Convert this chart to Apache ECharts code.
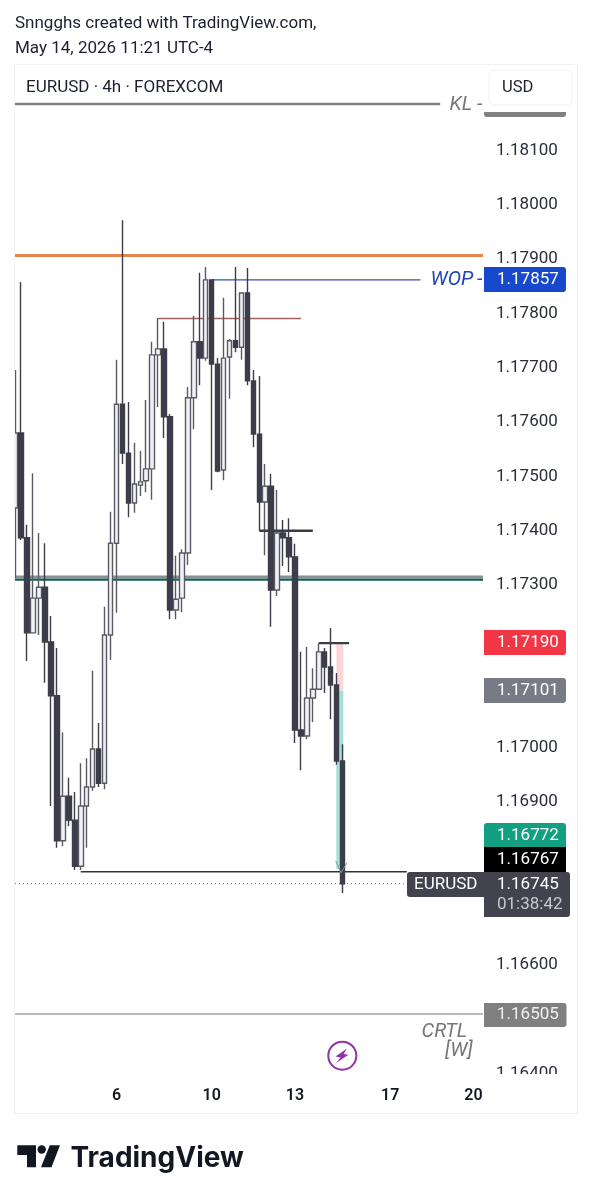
<!DOCTYPE html>
<html><head><meta charset="utf-8">
<style>html,body{margin:0;padding:0;background:#fff}#c{width:592px;height:1200px}</style>
<script src="https://cdn.jsdelivr.net/npm/echarts@6/dist/echarts.min.js"></script>
</head><body><div id="c"></div>
<script>
const opens=[1.17437,1.17575,1.17382,1.17207,1.17271,1.17291,1.17190,1.17091,1.16824,1.16906,1.16862,1.16777,1.16888,1.16923,1.16993,1.16930,1.17203,1.17372,1.17628,1.17538,1.17446,1.17479,1.17487,1.17509,1.17719,1.17730,1.17605,1.17249,1.17271,1.17354,1.17640,1.17743,1.17713,1.17857,1.17702,1.17507,1.17715,1.17745,1.17733,1.17833,1.17671,1.17573,1.17448,1.17477,1.17286,1.17391,1.17382,1.17347,1.17028,1.17017,1.17087,1.17103,1.17172,1.17144,1.17111,1.16971];
const closes=[1.17575,1.17382,1.17207,1.17271,1.17291,1.17190,1.17091,1.16824,1.16906,1.16862,1.16777,1.16888,1.16923,1.16993,1.16930,1.17203,1.17372,1.17628,1.17538,1.17446,1.17481,1.17485,1.17509,1.17719,1.17730,1.17605,1.17249,1.17269,1.17354,1.17640,1.17743,1.17713,1.17857,1.17702,1.17505,1.17713,1.17745,1.17733,1.17833,1.17671,1.17573,1.17448,1.17477,1.17286,1.17391,1.17382,1.17347,1.17028,1.17017,1.17087,1.17103,1.17172,1.17144,1.17111,1.16971,1.16745];
const highs=[1.17691,1.17853,1.17406,1.17501,1.17391,1.17372,1.17238,1.17179,1.17024,1.16940,1.16914,1.16967,1.16976,1.17137,1.17041,1.17255,1.17430,1.17710,1.17967,1.17632,1.17557,1.17542,1.17636,1.17743,1.17787,1.17780,1.17610,1.17349,1.17361,1.17660,1.17791,1.17870,1.17881,1.17857,1.17713,1.17824,1.17748,1.17881,1.17833,1.17879,1.17691,1.17680,1.17518,1.17500,1.17470,1.17415,1.17418,1.17371,1.17172,1.17181,1.17142,1.17188,1.17179,1.17216,1.17133,1.17002];
const lows=[1.17308,1.17378,1.17155,1.17207,1.17203,1.17115,1.16888,1.16811,1.16814,1.16851,1.16770,1.16770,1.16811,1.16916,1.16923,1.16919,1.17157,1.17244,1.17518,1.17420,1.17428,1.17459,1.17466,1.17452,1.17623,1.17566,1.17232,1.17232,1.17245,1.17332,1.17582,1.17663,1.17708,1.17470,1.17503,1.17488,1.17638,1.17724,1.17710,1.17663,1.17549,1.17395,1.17350,1.17218,1.17275,1.17330,1.17319,1.17004,1.16954,1.17011,1.17043,1.17102,1.17096,1.17048,1.16964,1.16728];
const priceTicks=[1.181,1.18,1.179,1.178,1.177,1.176,1.175,1.174,1.173,1.17,1.169,1.166,1.164];
const dayTickBars=[17,33,47,63,77];
const dayTickLabels=['6','10','13','17','20'];
const klPrice=1.18181, orangePrice=1.17902, wopPrice=1.17857, redPrice=1.17786;
const grayZonePrice=1.17310, tealZonePrice=1.17305, bosHighPrice=1.17395, stopPrice=1.17188;
const entryPrice=1.17101, targetPrice=1.16772, lowPrice=1.16767, lastPrice=1.16745, crtlPrice=1.16505;
const tagValues=['1.17857','1.17190','1.17101','1.16772','1.16767','1.16745','1.16505'];
const FONT='Roboto';
const xMin=-0.05,xMax=78.6;
function level(name,price,a,b,color,width,type,z){
  return {name,type:'line',data:[[a,price],[b,price]],symbol:'none',silent:true,z:z||1,
    lineStyle:{color,width,type:type||'solid',cap:'butt'},animation:false};
}
const candles=opens.map((o,i)=>[i,o,closes[i],lows[i],highs[i]]);
const series=[
 level('KL',klPrice,xMin,71.4,'#808080',2.6),
 level('Orange',orangePrice,xMin,xMax,'#e8854c',3),
 level('WOP',wopPrice,33,68.1,'#2f55a8',1.3),
 level('Red',redPrice,24,48,'#a4605f',1.5),
 level('Gray zone',grayZonePrice,xMin,xMax,'#8e8e96',2.6),
 level('Teal zone',tealZonePrice,xMin,xMax,'#0f5f50',2.4),
 level('BOS',bosHighPrice,41,50,'#3c3c46',2.4,'solid',5),
 level('Stop',stopPrice,51,56.1,'#3c3c46',2.4,'solid',5),
 level('Low',lowPrice,11,65.8,'#33333c',1.6,'solid',3),
 level('Last',lastPrice,xMin,65.8,'#6b6b74',1,[1,3]),
 level('CRTL',crtlPrice,xMin,xMax,'#777',1.2),
 {name:'Position',type:'line',data:[],silent:true,z:1,animation:false,
  markArea:{silent:true,z:1,data:[
   [{xAxis:53.95,yAxis:stopPrice,itemStyle:{color:'#fbd6d9'}},{xAxis:55.13,yAxis:entryPrice}],
   [{xAxis:53.95,yAxis:entryPrice,itemStyle:{color:'#a5dfd8'}},{xAxis:55.13,yAxis:targetPrice}]
  ]}},
 {name:'EURUSD',type:'candlestick',z:4,animation:false,silent:true,data:candles,
  encode:{x:0,y:[1,2,3,4]},barWidth:5,
  itemStyle:{color:'#f2f2f6',color0:'#3c3c4a',borderColor:'#5a5a66',borderColor0:'#3c3c4a',borderWidth:1.4}},
 {name:'Arrow',type:'line',symbol:'none',z:6,silent:true,animation:false,
  data:[[53.85,1.16787],[54.75,1.16765],[55.7,1.16783]],lineStyle:{color:'#6f9c9c',width:1}}
];
function txt(x,y,text,size,color,extra){
  return Object.assign({type:'text',z:50,x,y:y+2,silent:true,style:Object.assign({text,fill:color,font:(extra&&extra.font)||`${size}px ${FONT}`,textVerticalAlign:'middle',textAlign:(extra&&extra.align)||'left'})},{});
}
function tag(x,y,w,h,color,r){
  return {type:'rect',z:40,silent:true,shape:{x,y,width:w,height:h,r:r||[0,3,3,0]},style:{fill:color}};
}
const it=`italic 20px ${FONT}`;
const graphics=[
 {type:'rect',z:30,silent:true,shape:{x:0,y:60,width:14.5,height:1060},style:{fill:'#fff'}},
 {type:'rect',z:30,silent:true,shape:{x:484,y:1074,width:92,height:12},style:{fill:'#fff'}},
 {type:'rect',z:31,silent:true,shape:{x:14.5,y:64.5,width:563,height:1049},style:{fill:'none',stroke:'#f0f2f7',lineWidth:1}},
 txt(15,22,'Snngghs created with TradingView.com,',17,'#1c2030'),
 txt(15,47,'May 14, 2026 11:21 UTC-4',17,'#1c2030'),
 txt(26,86,'EURUSD · 4h · FOREXCOM',17,'#1c2030'),
 {type:'rect',z:35,silent:true,shape:{x:489,y:70,width:83,height:35,r:5},style:{fill:'#fff',stroke:'#f0f2f7',lineWidth:1}},
 txt(502,86,'USD',16.5,'#1c2030'),
 tag(484,112,82,5,'#808080',[0,0,3,3]),
 txt(449.5,103,'KL',0,'#75757d',{font:it}),
 txt(477,103,'-',0,'#75757d',{font:it}),
 txt(430.5,278,'WOP',0,'#1b47b8',{font:it}),
 txt(477,278,'-',0,'#1b47b8',{font:it}),
 txt(421.5,1030,'CRTL',0,'#75757d',{font:it}),
 txt(445,1049,'[W]',0,'#75757d',{font:it}),
 tag(484,267,82,25,'#1848cc'), txt(497,278,tagValues[0],17,'#fff'),
 tag(484,630,82,25,'#f23645'), txt(497,640.5,tagValues[1],17,'#fff'),
 tag(484,678,82,25,'#787b86'), txt(497,688.5,tagValues[2],17,'#fff'),
 tag(484,823,82,24,'#129f82',[3,3,0,0]), txt(497,833.5,tagValues[3],17,'#fff'),
 tag(484,847,82,25,'#000000',[0,0,0,0]), txt(497,857.5,tagValues[4],17,'#fff'),
 tag(407,872,77,25,'#43434f',[3,0,0,3]), txt(414,882.5,'EURUSD',17,'#fff'),
 tag(484,872,86,45,'#43434f'), txt(497,882.5,tagValues[5],17,'#fff'), txt(497,903,'01:38:42',17,'#c8c8ce'),
 tag(484,1003,82.5,24,'#808080'), txt(497,1013,tagValues[6],17,'#f0f0f0'),
 {type:'circle',z:40,silent:true,shape:{cx:342.3,cy:1055.7,r:14},style:{fill:'#fff',stroke:'#9231a8',lineWidth:2}},
 {type:'polygon',z:41,silent:true,shape:{points:[[347,1048.5],[335.5,1056.5],[340.5,1057.5],[336,1063],[348.5,1054.8],[343.5,1054]]},style:{fill:'#9231a8'}},
 {type:'polygon',z:41,silent:true,shape:{points:[[17.3,1145.3],[36,1145.3],[36,1167.3],[27,1167.3],[27,1155],[17.3,1155]]},style:{fill:'#131722'}},
 {type:'circle',z:41,silent:true,shape:{cx:41.7,cy:1149.5,r:4.2},style:{fill:'#131722'}},
 {type:'polygon',z:41,silent:true,shape:{points:[[49.8,1145.3],[60,1145.3],[51.5,1167.3],[41,1167.3]]},style:{fill:'#131722'}},
 txt(70.5,1157,'TradingView',0,'#131722',{font:`700 28px Inter`})
];
const chart=echarts.init(document.getElementById('c'),null,{renderer:'canvas',width:592,height:1200});
chart.setOption({
 animation:false,backgroundColor:'#fff',
 grid:{left:15,right:109,top:66,height:1005,containLabel:false},
 xAxis:{type:'value',min:xMin,max:xMax,z:60,
  axisLine:{show:false},axisTick:{show:false},splitLine:{show:false},
  axisLabel:{customValues:dayTickBars,margin:17,
   formatter:v=>dayTickLabels[dayTickBars.indexOf(v)]||'',
   color:'#131722',fontFamily:FONT,fontSize:16,fontWeight:600,showMinLabel:true,showMaxLabel:true}},
 yAxis:{type:'value',position:'right',min:1.164,max:1.18251,scale:true,
  axisLine:{show:false},axisTick:{show:false},splitLine:{show:false},
  axisLabel:{customValues:priceTicks,margin:13,formatter:v=>'{p|'+v.toFixed(5)+'}',
   rich:{p:{color:'#2a2e39',fontFamily:FONT,fontSize:17,padding:[5,0,0,0]}},
   color:'#2a2e39',fontFamily:FONT,fontSize:17}},
 series,graphic:{elements:graphics}
});
</script></body></html>
